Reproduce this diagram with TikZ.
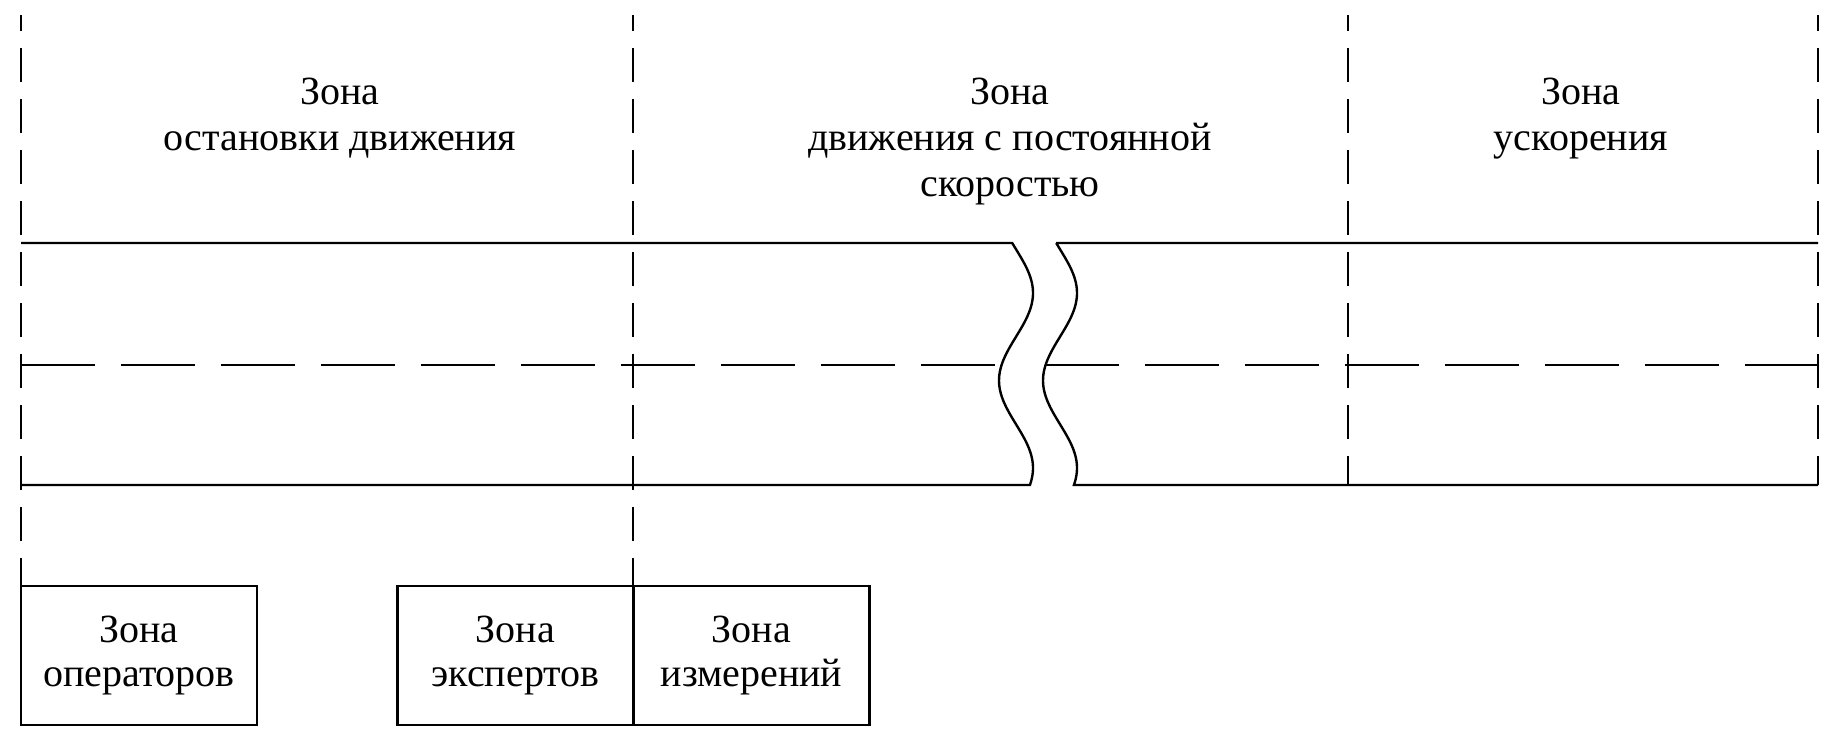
\documentclass[tikz,border=0pt]{standalone}
\usepackage{fontspec}
\setmainfont{Liberation Serif}
\begin{document}
\begin{tikzpicture}[x=1pt,y=-1pt,
  ln/.style={line width=2.4pt},
  vdash/.style={line width=2.4pt, dash pattern=on 34pt off 17pt, dash phase=18pt},
  hdash/.style={line width=2.4pt, dash pattern=on 74pt off 26pt},
  lbl/.style={font=\fontsize{40}{46}\selectfont, align=center, inner sep=0pt, anchor=north},
  zbox/.style={draw, line width=2.4pt, minimum width=236pt, minimum height=139pt, inner sep=0pt,
    font=\fontsize{40}{44}\selectfont, align=center}]
\useasboundingbox (0,0) rectangle (1835,731);
% zone labels
\node[lbl] (z1) at (340,78) {Зона\\остановки движения};
\node[lbl] (z2) at (1010,78) {Зона\\движения с постоянной\\скоростью};
\node[lbl] (z3) at (1581,78) {Зона\\ускорения};
% vertical dashed dividers
\draw[vdash] (21,15) -- (21,586);
\draw[vdash] (633,15) -- (633,586);
\draw[vdash] (1348,15) -- (1348,485);
\draw[vdash] (1818,15) -- (1818,485);
% band with break
\draw[ln, line join=miter] (21,243) -- (1012,243)
  -- plot[domain=243:485, samples=80, variable=\t] ({1016+17*cos(2.0571*(\t-293))}, \t)
  -- (21,485);
\draw[ln, line join=miter] (1818,243) -- (1056,243)
  -- plot[domain=243:485, samples=80, variable=\t] ({1060+17*cos(2.0571*(\t-293))}, \t)
  -- (1818,485);
% centre line
\draw[hdash] (21,365) -- (998,365);
\draw[hdash] (1045,365) -- (1818,365);
% bottom zones
\node[zbox] (ops) at (139,655.5) {Зона\\операторов};
\node[zbox] (exp) at (515.5,655.5) {Зона\\экспертов};
\node[zbox] (meas) at (751.5,655.5) {Зона\\измерений};
\end{tikzpicture}
\end{document}
